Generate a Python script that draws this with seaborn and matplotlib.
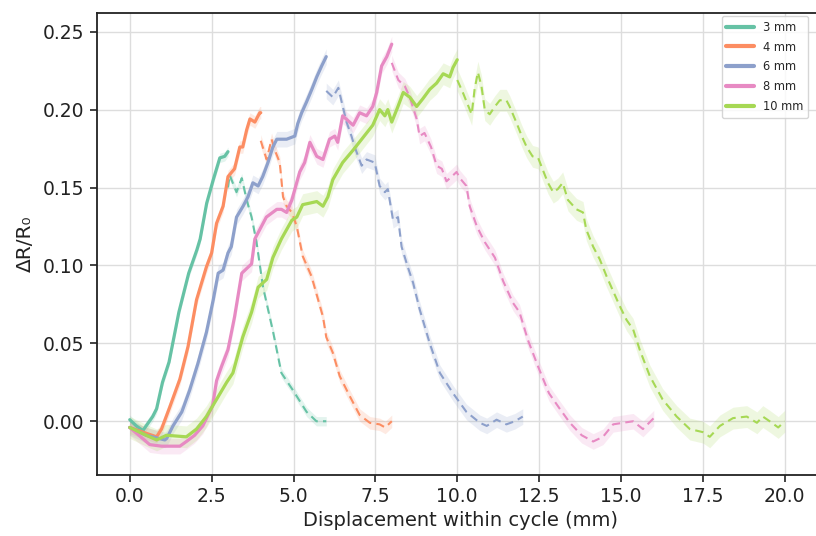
import numpy as np
import pandas as pd
import matplotlib
matplotlib.use("Agg")
import matplotlib.pyplot as plt
import seaborn as sns
from matplotlib.lines import Line2D

# ---------------- data ----------------
amplitudes = ["3 mm", "4 mm", "6 mm", "8 mm", "10 mm"]

load_x_3 = [0, 0.2, 0.4, 0.5, 0.7, 0.82, 1.0, 1.2, 1.5, 1.8, 2.05, 2.15, 2.35, 2.55, 2.75, 2.9, 3.0]
load_y_3 = [0.001, -0.003, -0.006, -0.003, 0.003, 0.008, 0.025, 0.038, 0.07, 0.095, 0.11, 0.117, 0.14, 0.155, 0.169, 0.170, 0.173]
unload_x_3 = [3.0, 3.05, 3.26, 3.42, 3.57, 3.72, 3.87, 4.07, 4.38, 4.63, 4.98, 5.4, 5.7, 6.0]
unload_y_3 = [0.150, 0.158, 0.147, 0.156, 0.142, 0.131, 0.115, 0.086, 0.057, 0.031, 0.020, 0.006, 0.000, 0.000]

load_x_4 = [0, 0.4, 0.82, 0.97, 1.22, 1.53, 1.78, 2.04, 2.34, 2.5, 2.65, 2.85, 3.0, 3.2, 3.36, 3.45, 3.57, 3.67, 3.82, 3.97, 4.0]
load_y_4 = [-0.004, -0.007, -0.010, -0.005, 0.009, 0.027, 0.048, 0.078, 0.099, 0.108, 0.127, 0.138, 0.157, 0.162, 0.176, 0.176, 0.187, 0.194, 0.192, 0.198, 0.198]
unload_x_4 = [4.0, 4.06, 4.18, 4.33, 4.43, 4.58, 4.68, 4.79, 4.95, 5.1, 5.28, 5.55, 5.9, 6.0, 6.2, 6.41, 6.72, 7.02, 7.33, 7.63, 7.8, 8.0]
unload_y_4 = [0.180, 0.176, 0.168, 0.181, 0.174, 0.166, 0.144, 0.138, 0.134, 0.125, 0.106, 0.093, 0.067, 0.054, 0.044, 0.029, 0.016, 0.004, -0.001, -0.002, -0.004, 0.000]

load_x_6 = [0, 0.5, 1.07, 1.13, 1.32, 1.59, 1.83, 2.08, 2.34, 2.55, 2.7, 2.85, 3.0, 3.1, 3.26, 3.46, 3.61, 3.76, 3.92, 4.06, 4.22, 4.37, 4.49, 4.79, 5.04, 5.13, 5.25, 5.4, 5.56, 5.71, 5.86, 6.0]
load_y_6 = [-0.004, -0.009, -0.012, -0.011, -0.003, 0.006, 0.020, 0.037, 0.057, 0.078, 0.095, 0.097, 0.108, 0.112, 0.131, 0.138, 0.144, 0.153, 0.151, 0.157, 0.166, 0.176, 0.181, 0.181, 0.183, 0.191, 0.198, 0.205, 0.213, 0.221, 0.228, 0.234]
unload_x_6 = [6.0, 6.2, 6.37, 6.47, 6.62, 6.77, 6.87, 7.08, 7.23, 7.48, 7.63, 7.79, 7.88, 8.04, 8.19, 8.3, 8.49, 8.65, 8.85, 9.16, 9.47, 9.87, 10.28, 10.69, 10.9, 11.2, 11.5, 11.76, 12.0]
unload_y_6 = [0.212, 0.208, 0.214, 0.205, 0.192, 0.183, 0.176, 0.164, 0.168, 0.166, 0.151, 0.147, 0.149, 0.129, 0.131, 0.112, 0.099, 0.089, 0.072, 0.050, 0.031, 0.018, 0.006, -0.001, -0.003, 0.001, -0.002, 0.000, 0.003]

load_x_8 = [0, 0.61, 0.97, 1.22, 1.53, 1.73, 1.98, 2.23, 2.53, 2.65, 2.8, 3.0, 3.2, 3.42, 3.72, 3.82, 4.17, 4.49, 4.63, 4.79, 4.95, 5.19, 5.34, 5.5, 5.71, 5.9, 6.1, 6.26, 6.35, 6.5, 6.82, 7.02, 7.23, 7.42, 7.54, 7.69, 7.85, 8.0]
load_y_8 = [-0.004, -0.015, -0.016, -0.016, -0.016, -0.013, -0.009, -0.003, 0.010, 0.026, 0.035, 0.046, 0.067, 0.095, 0.101, 0.117, 0.131, 0.136, 0.136, 0.134, 0.142, 0.160, 0.166, 0.179, 0.170, 0.168, 0.181, 0.183, 0.179, 0.196, 0.190, 0.198, 0.196, 0.202, 0.211, 0.228, 0.234, 0.242]
unload_x_8 = [8.0, 8.2, 8.4, 8.55, 8.76, 8.85, 9.0, 9.2, 9.37, 9.53, 9.67, 9.83, 9.98, 10.08, 10.28, 10.38, 10.6, 10.84, 11.15, 11.4, 11.7, 11.9, 12.16, 12.47, 12.8, 13.13, 13.44, 13.8, 14.15, 14.45, 14.76, 15.06, 15.37, 15.67, 16.0]
unload_y_8 = [0.230, 0.219, 0.215, 0.208, 0.194, 0.183, 0.185, 0.176, 0.164, 0.162, 0.154, 0.157, 0.160, 0.156, 0.151, 0.138, 0.125, 0.115, 0.105, 0.090, 0.076, 0.070, 0.052, 0.035, 0.018, 0.008, -0.001, -0.009, -0.013, -0.010, -0.002, -0.001, 0.000, -0.005, 0.002]

load_x_10 = [0, 0.5, 0.82, 1.12, 1.73, 2.04, 2.34, 2.65, 2.96, 3.15, 3.45, 3.72, 3.92, 4.18, 4.37, 4.63, 4.95, 5.1, 5.28, 5.5, 5.71, 5.9, 6.05, 6.2, 6.5, 6.82, 7.12, 7.42, 7.63, 7.79, 7.88, 8.0, 8.19, 8.35, 8.55, 8.76, 8.95, 9.16, 9.37, 9.57, 9.77, 9.87, 10.0]
load_y_10 = [-0.004, -0.009, -0.012, -0.009, -0.010, -0.005, 0.003, 0.014, 0.025, 0.031, 0.054, 0.070, 0.086, 0.091, 0.105, 0.117, 0.129, 0.131, 0.139, 0.140, 0.141, 0.138, 0.144, 0.155, 0.166, 0.174, 0.182, 0.190, 0.200, 0.196, 0.200, 0.192, 0.202, 0.211, 0.208, 0.202, 0.207, 0.213, 0.217, 0.223, 0.221, 0.227, 0.232]
unload_x_10 = [10.0, 10.17, 10.44, 10.53, 10.63, 10.74, 10.84, 10.99, 11.15, 11.3, 11.5, 11.6, 11.82, 11.97, 12.12, 12.3, 12.47, 12.6, 12.77, 12.93, 13.07, 13.22, 13.38, 13.64, 13.84, 13.94, 14.15, 14.35, 14.56, 14.96, 15.17, 15.37, 15.57, 15.88, 16.27, 16.7, 17.1, 17.5, 17.71, 18.02, 18.42, 18.84, 19.15, 19.33, 19.54, 19.8, 20.0]
unload_y_10 = [0.219, 0.211, 0.197, 0.213, 0.224, 0.215, 0.200, 0.197, 0.202, 0.206, 0.206, 0.202, 0.191, 0.183, 0.176, 0.170, 0.169, 0.162, 0.153, 0.147, 0.149, 0.153, 0.142, 0.136, 0.134, 0.123, 0.112, 0.104, 0.093, 0.074, 0.065, 0.059, 0.046, 0.029, 0.014, 0.003, -0.005, -0.007, -0.010, -0.003, 0.002, 0.003, -0.001, 0.003, 0.000, -0.004, 0.000]

band_halfwidth = [0.003, 0.004, 0.005, 0.005, 0.007]

loads = [(load_x_3, load_y_3), (load_x_4, load_y_4), (load_x_6, load_y_6),
         (load_x_8, load_y_8), (load_x_10, load_y_10)]
unloads = [(unload_x_3, unload_y_3), (unload_x_4, unload_y_4), (unload_x_6, unload_y_6),
           (unload_x_8, unload_y_8), (unload_x_10, unload_y_10)]

# ---------------- plotting ----------------
sns.set_style("whitegrid")
plt.rcParams["font.family"] = ["DejaVu Sans"]
palette = sns.color_palette("Set2", 5)

fig = plt.figure(figsize=(8.16, 5.36), dpi=100)
ax = fig.add_axes([97 / 816, (536 - 475) / 536, (824 - 97) / 816, (475 - 13) / 536])

for i, name in enumerate(amplitudes):
    c = palette[i]
    hw = band_halfwidth[i]
    lx, ly = loads[i]
    ux, uy = unloads[i]
    ax.fill_between(lx, np.array(ly) - hw, np.array(ly) + hw, color=c, alpha=0.18, lw=0)
    ax.fill_between(ux, np.array(uy) - hw, np.array(uy) + hw, color=c, alpha=0.18, lw=0)
    sns.lineplot(x=lx, y=ly, color=c, lw=2.3, ax=ax, sort=False, estimator=None)
    sns.lineplot(x=ux, y=uy, color=c, lw=1.5, ax=ax, sort=False, estimator=None,
                 linestyle=(0, (4, 2.5)))

ax.set_xlim(-1.0, -1.0 + (824 - 97) / 32.75)
ax.set_ylim(-0.0345, 0.262)
ax.set_xticks([0, 2.5, 5, 7.5, 10, 12.5, 15, 17.5, 20])
ax.set_xticklabels(["0.0", "2.5", "5.0", "7.5", "10.0", "12.5", "15.0", "17.5", "20.0"])
ax.set_yticks([0, 0.05, 0.10, 0.15, 0.20, 0.25])
ax.set_yticklabels(["0.00", "0.05", "0.10", "0.15", "0.20", "0.25"])

ax.grid(True, color="#dddddd", lw=1.0)
for s in ax.spines.values():
    s.set_color("#222222")
    s.set_linewidth(1.3)
ax.tick_params(axis="both", which="both", direction="out", length=5, width=1.2,
               color="#222222", labelsize=13.5, labelcolor="#222222",
               bottom=True, left=True, pad=4)
ax.set_xlabel("Displacement within cycle (mm)", fontsize=14, color="#222222", labelpad=3)
ax.set_ylabel("ΔR/R₀", fontsize=14.5, color="#222222", labelpad=6)

handles = [Line2D([0], [0], color=palette[i], lw=3) for i in range(5)]
leg = ax.legend(handles, amplitudes, loc="upper right", fontsize=8.3,
                bbox_to_anchor=(808 / 816, 1 - 16 / 536), bbox_transform=fig.transFigure,
                borderaxespad=0, frameon=True, handlelength=2.4, labelspacing=0.6)
leg.get_frame().set_edgecolor("#cccccc")

fig.savefig("out.png", dpi=100)
